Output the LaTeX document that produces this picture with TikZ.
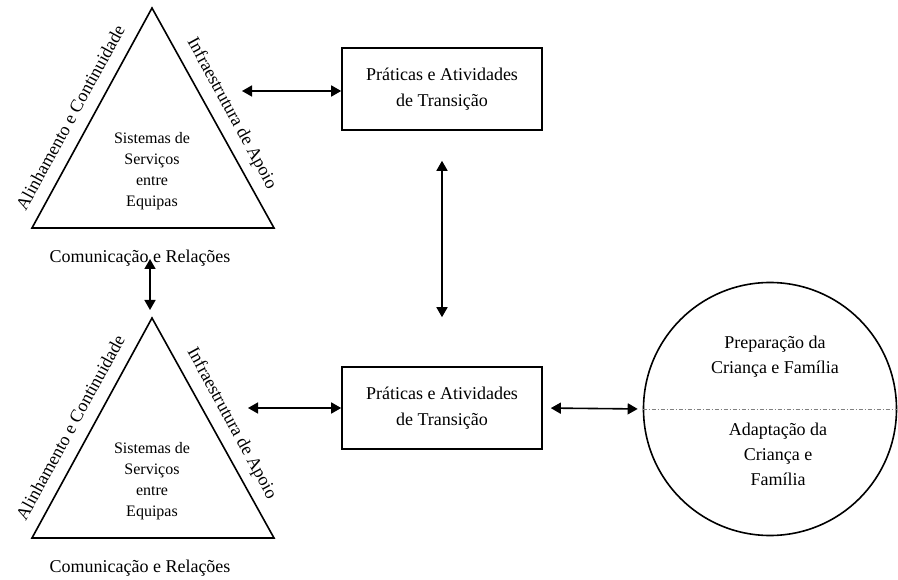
\documentclass[tikz,border=0pt]{standalone}
\usepackage{fontspec}
\setmainfont{Liberation Serif}
\usetikzlibrary{arrows.meta,calc}

\begin{document}
\begin{tikzpicture}[x=1pt, y=-1pt,
        caixa/.style={draw, line width=1.6pt, minimum width=200pt, minimum height=82pt, align=center, font=\fontsize{18}{26}\selectfont},
        seta/.style={{Triangle[length=10pt,width=11pt]}-{Triangle[length=10pt,width=11pt]}, line width=1.6pt},
        lado/.style={anchor=south, inner sep=1pt, font=\fontsize{18}{22}\selectfont},
        miolo/.style={align=center, font=\fontsize{16}{21}\selectfont},
        rotulo/.style={align=center, font=\fontsize{18}{25}\selectfont}]
        \useasboundingbox (0,0) rectangle (898,580);
        % os dois triangulos
        \foreach \i/\dy in {1/0, 2/310}{
            \begin{scope}[shift={(0,\dy)}]
                \coordinate (topo\i) at (152,8);
                \coordinate (esq\i) at (32,228);
                \coordinate (dir\i) at (274,228);
                \draw[line width=1.6pt] (topo\i) -- (esq\i) -- (dir\i) -- cycle;
                \node[lado, outer sep=12pt, rotate=61.4] (alin\i) at ($(esq\i)!0.46!(topo\i)$) {Alinhamento e Continuidade};
                \node[lado, outer sep=9pt, rotate=-61.4] (infra\i) at ($(topo\i)!0.52!(dir\i)$) {Infraestrutura de Apoio};
                \node[miolo] (sist\i) at (152,171) {Sistemas de\\Serviços\\entre\\Equipas};
                \node[rotulo] (com\i) at (140,258) {Comunicação e Relações};
            \end{scope}
        }
        \node[caixa] (box1) at (442,89) {Práticas e Atividades\\de Transição};
        \node[caixa] (box2) at (442,408) {Práticas e Atividades\\de Transição};
        \node[circle, draw, line width=1.6pt, minimum size=253pt, inner sep=0pt] (circ) at (770,409) {};
        \draw[gray, line width=0.7pt, dash pattern=on 4pt off 2pt on 1pt off 2pt] (circ.west) -- (circ.east);
        \node[rotulo] (prep) at (775,357) {Preparação da\\Criança e Família};
        \node[rotulo] (adap) at (778,454) {Adaptação da\\Criança e\\Família};
        % setas
        \coordinate (p1) at (242,91);
        \coordinate (p2) at (150,259);
        \coordinate (p4) at (248,408);
        \draw[seta] (p1) -- (p1 -| box1.west);
        \draw[seta, shorten <=30pt, shorten >=49pt] (box1.south) -- (box2.north);
        \draw[seta, shorten >=8pt] (p2) -- (p2 |- topo2);
        \draw[seta] (p4) -- (box2.west);
        \draw[seta, shorten <=8pt, shorten >=5pt] (box2.east) -- (circ.west);
    \end{tikzpicture}
\end{document}
